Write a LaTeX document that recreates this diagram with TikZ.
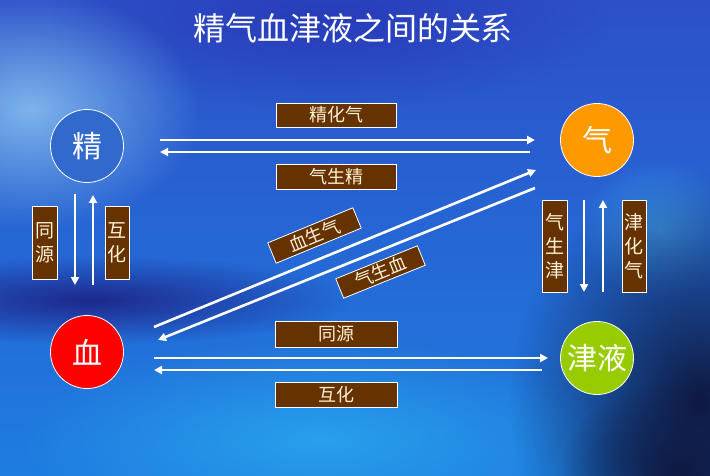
\documentclass[tikz,border=0pt]{standalone}
\usepackage{fontspec}
\setmainfont{Noto Sans CJK SC}
\usetikzlibrary{arrows.meta,fadings}
\definecolor{bgTop}{RGB}{45,80,200}
\definecolor{bgBot}{RGB}{30,125,225}
\definecolor{lightTL}{RGB}{125,180,235}
\definecolor{darkBand}{RGB}{30,40,140}
\definecolor{cyanBot}{RGB}{40,160,235}
\definecolor{navyR}{RGB}{15,25,65}
\definecolor{streakR}{RGB}{60,150,230}
\definecolor{darkTop}{RGB}{40,60,185}
\definecolor{jingC}{RGB}{50,105,205}
\definecolor{qiC}{RGB}{255,153,0}
\definecolor{xueC}{RGB}{255,0,0}
\definecolor{jinyeC}{RGB}{153,204,0}
\definecolor{boxC}{RGB}{102,51,0}
\definecolor{creamC}{RGB}{255,240,215}
\tikzfading[name=blob, inner color=transparent!0, outer color=transparent!100]
\begin{document}
\begin{tikzpicture}[x=1pt,y=-1pt,
  circ/.style={circle, draw=white, line width=0.8pt, minimum size=73pt, inner sep=0pt, text=white, font=\fontsize{30}{30}\selectfont},
  lbl/.style={draw=white, fill=boxC, text=creamC, line width=0.8pt, inner sep=0pt, font=\fontsize{18}{20}\selectfont},
  vlbl/.style={lbl, align=center, font=\fontsize{19}{24}\selectfont},
  conn/.style={draw=white, line width=2.6pt, -{Triangle[length=8pt,width=8pt]}}
]
\useasboundingbox (0,0) rectangle (710,476);
% background
\shade[top color=bgTop, bottom color=bgBot] (0,0) rectangle (710,476);
\fill[darkTop, path fading=blob] (330,20) ellipse [x radius=280, y radius=90];
\fill[lightTL, path fading=blob] (30,110) ellipse [x radius=170, y radius=120];
\fill[darkBand, path fading=blob] (90,300) ellipse [x radius=260, y radius=45];
\fill[cyanBot, path fading=blob] (320,440) ellipse [x radius=300, y radius=100];
\fill[streakR, path fading=blob] (660,230) ellipse [x radius=80, y radius=70];
\fill[navyR, path fading=blob] (700,400) ellipse [x radius=190, y radius=230];
\fill[navyR, path fading=blob] (680,470) ellipse [x radius=120, y radius=90];
% title
\node[text=white, font=\fontsize{32}{36}\selectfont] (title) at (353,28) {精气血津液之间的关系};
% main nodes
\node[circ, fill=jingC] (jing) at (87,146) {精};
\node[circ, fill=qiC] (qi) at (597,140) {气};
\node[circ, fill=xueC] (xue) at (87,352) {血};
\node[circ, fill=jinyeC] (jinye) at (597,358) {津液};
% connector endpoints
\coordinate (jqA) at (160,140); \coordinate (jqB) at (535,140);
\coordinate (qjA) at (530,152); \coordinate (qjB) at (160,152);
\coordinate (jxA) at (75,194);  \coordinate (jxB) at (75,285);
\coordinate (xjA) at (93,285);  \coordinate (xjB) at (93,195);
\coordinate (qyA) at (584,200); \coordinate (qyB) at (584,292);
\coordinate (yqA) at (603,292); \coordinate (yqB) at (603,200);
\coordinate (xyA) at (154,358); \coordinate (xyB) at (548,358);
\coordinate (yxA) at (542,370); \coordinate (yxB) at (154,370);
\coordinate (xqA) at (154,327); \coordinate (xqB) at (536,170);
\coordinate (qxA) at (535,188); \coordinate (qxB) at (158,340);
\draw[conn] (jqA) -- (jqB);
\draw[conn] (qjA) -- (qjB);
\draw[conn] (jxA) -- (jxB);
\draw[conn] (xjA) -- (xjB);
\draw[conn] (qyA) -- (qyB);
\draw[conn] (yqA) -- (yqB);
\draw[conn] (xyA) -- (xyB);
\draw[conn] (yxA) -- (yxB);
\draw[conn] (xqA) -- (xqB);
\draw[conn] (qxA) -- (qxB);
% labels
\node[lbl, minimum width=120pt, minimum height=24pt] (l1) at (336,115) {精化气};
\node[lbl, minimum width=120pt, minimum height=25pt] (l2) at (336,176.5) {气生精};
\node[vlbl, minimum width=25pt, minimum height=73pt] (l3) at (44.5,242.5) {同\\源};
\node[vlbl, minimum width=24pt, minimum height=73pt] (l4) at (117,242.5) {互\\化};
\node[vlbl, minimum width=25pt, minimum height=92pt] (l5) at (554.5,246) {气\\生\\津};
\node[vlbl, minimum width=24pt, minimum height=92pt] (l6) at (634,246) {津\\化\\气};
\node[lbl, minimum width=122pt, minimum height=26pt] (l7) at (336,334) {同源};
\node[lbl, minimum width=122pt, minimum height=25pt] (l8) at (336,394.5) {互化};
\node[lbl, minimum width=92pt, minimum height=22pt, rotate=22.4] (l9) at (314.5,235.5) {血生气};
\node[lbl, minimum width=88pt, minimum height=21pt, rotate=22] (l10) at (380.5,272) {气生血};
\end{tikzpicture}
\end{document}
